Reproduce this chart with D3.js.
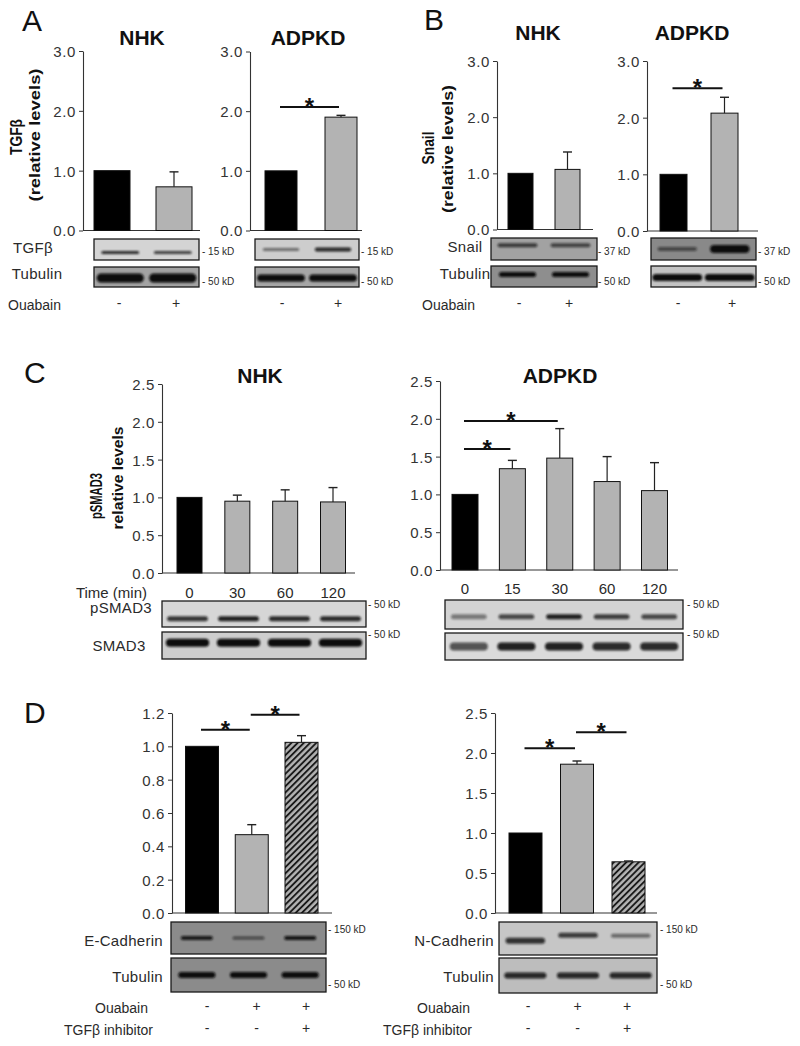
<!DOCTYPE html>
<html><head><meta charset="utf-8">
<script src="https://cdn.jsdelivr.net/npm/d3@7"></script>
<style>
body{margin:0;background:#fff}
text{font-family:"Liberation Sans",Arial,sans-serif}
</style>
</head><body>
<svg id="fig" width="800" height="1046"></svg>
<script>
// ---------------- DATA ----------------
const ouabainCats = ["Vehicle", "Ouabain"];
const ouabainSigns = ["-", "+"];
// Panel A: TGFβ relative levels
const aNhkVals = [1.00, 0.73];
const aNhkErr  = [0, 0.25];
const aAdpkdVals = [1.00, 1.90];
const aAdpkdErr  = [0, 0.03];
// Panel B: Snail relative levels
const bNhkVals = [1.00, 1.07];
const bNhkErr  = [0, 0.31];
const bAdpkdVals = [1.00, 2.08];
const bAdpkdErr  = [0, 0.28];
const abTicks = [0, 1, 2, 3];
// Panel C: pSMAD3 time course
const cNhkTimes = ["0", "30", "60", "120"];
const cNhkVals  = [1.00, 0.95, 0.95, 0.94];
const cNhkErr   = [0, 0.08, 0.15, 0.19];
const cAdpkdTimes = ["0", "15", "30", "60", "120"];
const cAdpkdVals  = [1.00, 1.34, 1.48, 1.17, 1.05];
const cAdpkdErr   = [0, 0.11, 0.39, 0.33, 0.37];
const cTicks = [0, 0.5, 1.0, 1.5, 2.0, 2.5];
// Panel D: cadherins
const dCats = ["Control", "Ouabain", "Ouabain+TGFβ inhibitor"];
const dOuabainSigns = ["-", "+", "+"];
const dInhibitorSigns = ["-", "-", "+"];
const dEcadVals = [1.00, 0.47, 1.024];
const dEcadErr  = [0, 0.06, 0.04];
const dEcadTicks = [0, 0.2, 0.4, 0.6, 0.8, 1.0, 1.2];
const dNcadVals = [1.00, 1.86, 0.64];
const dNcadErr  = [0, 0.04, 0.01];
const dNcadTicks = [0, 0.5, 1.0, 1.5, 2.0, 2.5];
// Significance brackets: [from bar, to bar, level]
const aAdpkdSig = [[0, 1, 2.07]];
const bAdpkdSig = [[0, 1, 2.52]];
const cAdpkdSig = [[0, 2, 1.97], [0, 1, 1.60]];
const dEcadSig = [[0, 1, 1.10], [1, 2, 1.19]];
const dNcadSig = [[0, 1, 2.06], [1, 2, 2.26]];
// Western blot band intensities (0-1) per lane
const aNhkTgfBands = [0.85, 0.75];
const aNhkTubBands = [1, 1];
const aAdpkdTgfBands = [0.5, 0.85];
const aAdpkdTubBands = [1, 1];
const bNhkSnailBands = [0.7, 0.65];
const bNhkTubBands = [1, 1];
const bAdpkdSnailBands = [0.55, 1];
const bAdpkdTubBands = [1, 1];
const cNhkPsmadBands = [0.8, 0.9, 0.85, 0.85];
const cNhkSmadBands = [1, 1, 1, 1];
const cAdpkdPsmadBands = [0.45, 0.7, 0.9, 0.75, 0.7];
const cAdpkdSmadBands = [0.65, 0.9, 0.9, 0.85, 0.85];
const dEcadBands = [0.9, 0.55, 0.95];
const dEcadTubBands = [1, 1, 1];
const dNcadBands = [0.8, 0.75, 0.5];
const dNcadTubBands = [0.85, 0.85, 0.85];

// ---------------- DRAWING ----------------
const svg = d3.select('#fig');
const defs = svg.append('defs');
const flt = defs.append('filter').attr('id', 'blur')
  .attr('x', '-20%').attr('y', '-150%').attr('width', '140%').attr('height', '400%');
flt.append('feGaussianBlur').attr('stdDeviation', 1.1);
const pat = defs.append('pattern').attr('id', 'hatch')
  .attr('patternUnits', 'userSpaceOnUse').attr('width', 4.4).attr('height', 4.4)
  .attr('patternTransform', 'rotate(45)');
pat.append('rect').attr('width', 4.4).attr('height', 4.4).attr('fill', '#b3b3b3');
pat.append('line').attr('x1', 1).attr('x2', 1).attr('y1', 0).attr('y2', 4.4)
  .attr('stroke', '#111').attr('stroke-width', 1.8);

const TXT = '#2a2a2a';

function barChart(cfg) {
  const g = svg.append('g');
  const y = d3.scaleLinear().domain([0, cfg.yMax]).range([cfg.y0, cfg.yTop]);
  const x = d3.scalePoint().domain(cfg.cats).range([cfg.c0, cfg.c1]);
  const ay = d3.axisLeft(y).tickValues(cfg.ticks).tickFormat(d3.format('.1f'))
    .tickSize(4).tickSizeOuter(0).tickPadding(3);
  const ga = g.append('g').attr('transform', `translate(${cfg.axisX},0)`).call(ay);
  ga.select('.domain').attr('stroke', '#333').attr('stroke-width', 1.1);
  ga.selectAll('.tick line').attr('stroke', '#333');
  ga.selectAll('.tick text').attr('font-size', 15).attr('fill', '#333')
    .attr('font-family', '"Liberation Sans",Arial,sans-serif')
    .attr('letter-spacing', 0.6).attr('dy', '0.36em');
  g.append('line').attr('x1', cfg.axisX).attr('x2', cfg.xEnd)
    .attr('y1', cfg.y0).attr('y2', cfg.y0).attr('stroke', '#333').attr('stroke-width', 1.1);
  // bars
  g.selectAll('rect.bar').data(cfg.vals).enter().append('rect').attr('class', 'bar')
    .attr('x', (d, i) => x(cfg.cats[i]) - cfg.bw / 2)
    .attr('width', cfg.bw)
    .attr('y', d => y(d))
    .attr('height', d => cfg.y0 - y(d))
    .attr('fill', (d, i) => cfg.fills[i])
    .attr('stroke', '#111').attr('stroke-width', 1);
  // error bars
  cfg.vals.forEach((v, i) => {
    const e = cfg.errs[i];
    if (!e) return;
    const cx = x(cfg.cats[i]);
    g.append('line').attr('x1', cx).attr('x2', cx).attr('y1', y(v)).attr('y2', y(v + e))
      .attr('stroke', '#222').attr('stroke-width', 1.2);
    g.append('line').attr('x1', cx - 4.5).attr('x2', cx + 4.5).attr('y1', y(v + e)).attr('y2', y(v + e))
      .attr('stroke', '#222').attr('stroke-width', 1.4);
  });
  // significance
  (cfg.sig || []).forEach(s => {
    const x1 = x(cfg.cats[s[0]]) - 1, x2 = x(cfg.cats[s[1]]) - 2;
    const yy = y(s[2]);
    g.append('line').attr('x1', x1).attr('x2', x2).attr('y1', yy).attr('y2', yy)
      .attr('stroke', '#111').attr('stroke-width', 2);
    g.append('text').attr('x', (x1 + x2) / 2).attr('y', yy + 8).attr('text-anchor', 'middle')
      .attr('font-size', 24).attr('font-weight', 'bold').attr('fill', '#111').text('*');
  });
  if (cfg.title) {
    g.append('text').attr('x', cfg.titleX).attr('y', cfg.titleY).attr('text-anchor', 'middle')
      .attr('font-size', 21).attr('font-weight', 'bold').attr('fill', '#111').text(cfg.title);
  }
  if (cfg.xLabels) {
    g.selectAll('text.xl').data(cfg.cats).enter().append('text').attr('class', 'xl')
      .attr('x', d => x(d)).attr('y', cfg.xLabelY).attr('text-anchor', 'middle')
      .attr('font-size', 15).attr('fill', TXT).text(d => d);
  }
  return {x, y};
}

function blot(cfg) {
  const g = svg.append('g');
  const n = cfg.bands.length;
  const lane = d3.scalePoint().domain(d3.range(n)).range([cfg.x, cfg.x + cfg.w]).padding(0.5);
  const lw = cfg.w / n;
  g.append('rect').attr('x', cfg.x).attr('y', cfg.y).attr('width', cfg.w).attr('height', cfg.h)
    .attr('fill', cfg.bg);
  const cid = 'clip' + Math.round(cfg.x) + '_' + Math.round(cfg.y);
  defs.append('clipPath').attr('id', cid).append('rect')
    .attr('x', cfg.x).attr('y', cfg.y).attr('width', cfg.w).attr('height', cfg.h);
  const bg = g.append('g').attr('clip-path', `url(#${cid})`);
  cfg.bands.forEach((b, i) => {
    const yf = Array.isArray(cfg.yf) ? cfg.yf[i] : cfg.yf;
    const th = (Array.isArray(cfg.th) ? cfg.th[i] : cfg.th);
    const bw = lw * cfg.wf;
    const cy = cfg.y + cfg.h * yf;
    bg.append('rect').attr('x', lane(i) - bw / 2).attr('y', cy - th / 2)
      .attr('width', bw).attr('height', th).attr('rx', th / 2).attr('ry', th / 2)
      .attr('fill', '#0d0d0d').attr('opacity', b).attr('filter', 'url(#blur)');
  });
  g.append('rect').attr('x', cfg.x).attr('y', cfg.y).attr('width', cfg.w).attr('height', cfg.h)
    .attr('fill', 'none').attr('stroke', '#1a1a1a').attr('stroke-width', 1.3);
  if (cfg.label) {
    g.append('text').attr('x', cfg.labelX).attr('y', cfg.labelY)
      .attr('text-anchor', cfg.labelAnchor || 'middle').attr('font-size', 15)
      .attr('letter-spacing', 0.3).attr('fill', TXT).text(cfg.label);
  }
  if (cfg.kd) {
    g.append('text').attr('x', cfg.kdX).attr('y', cfg.kdY).attr('font-size', 10)
      .attr('fill', TXT).text(cfg.kd);
  }
}

function txt(x, y, s, o) {
  o = o || {};
  const t = svg.append('text').attr('x', x).attr('y', y).attr('fill', o.fill || TXT)
    .attr('font-size', o.size || 14).attr('text-anchor', o.anchor || 'start')
    .attr('font-weight', o.weight || 'normal').text(s);
  return t;
}
function vlabel(cx, cy, s, len, size) {
  svg.append('text').attr('transform', `translate(${cx},${cy}) rotate(-90)`)
    .attr('text-anchor', 'middle').attr('dominant-baseline', 'central')
    .attr('font-size', size).attr('font-weight', 'bold').attr('fill', '#111')
    .attr('textLength', len).attr('lengthAdjust', 'spacingAndGlyphs').text(s);
}
function signRow(signs, x0, x1, y) {
  const s = d3.scalePoint().domain(d3.range(signs.length)).range([x0, x1]);
  signs.forEach((d, i) => txt(s(i), y, d, {anchor: 'middle', size: 14}));
}

const grayFill = '#b3b3b3';

// ---------- Panel A ----------
txt(22, 31, 'A', {size: 30, fill: '#111'});
barChart({cats: ouabainCats, vals: aNhkVals, errs: aNhkErr, fills: ['#000', grayFill],
  ticks: abTicks, yMax: 3, y0: 230.5, yTop: 51, axisX: 83, xEnd: 200, c0: 112, c1: 174, bw: 36,
  title: 'NHK', titleX: 142, titleY: 45});
barChart({cats: ouabainCats, vals: aAdpkdVals, errs: aAdpkdErr, fills: ['#000', grayFill],
  ticks: abTicks, yMax: 3, y0: 230.5, yTop: 51.5, axisX: 250, xEnd: 362, c0: 281, c1: 341, bw: 32,
  sig: aAdpkdSig, title: 'ADPKD', titleX: 308, titleY: 45});
vlabel(16, 137, 'TGFβ', 36, 17);
vlabel(34, 135, '(relative levels)', 133, 15);
blot({x: 94, y: 239, w: 105, h: 21, bg: '#d4d4d4', bands: aNhkTgfBands, yf: 0.64, th: 3, wf: 0.72,
  label: 'TGFβ', labelX: 33, labelY: 253, kd: '- 15 kD', kdX: 202, kdY: 255});
blot({x: 94, y: 267, w: 105, h: 20, bg: '#a3a3a3', bands: aNhkTubBands, yf: 0.55, th: 9, wf: 0.9,
  label: 'Tubulin', labelX: 37, labelY: 279, kd: '- 50 kD', kdX: 202, kdY: 285});
blot({x: 255, y: 239, w: 104, h: 21, bg: '#cdcdcd', bands: aAdpkdTgfBands, yf: 0.5, th: [3, 4], wf: 0.7,
  kd: '- 15 kD', kdX: 361, kdY: 255});
blot({x: 255, y: 267, w: 104, h: 20, bg: '#a6a6a6', bands: aAdpkdTubBands, yf: 0.55, th: 7, wf: 0.92,
  kd: '- 50 kD', kdX: 361, kdY: 285});
txt(8, 310, 'Ouabain', {size: 14});
signRow(ouabainSigns, 119, 176, 308);
signRow(ouabainSigns, 282, 338, 308);

// ---------- Panel B ----------
txt(424, 30, 'B', {size: 30, fill: '#111'});
barChart({cats: ouabainCats, vals: bNhkVals, errs: bNhkErr, fills: ['#000', grayFill],
  ticks: abTicks, yMax: 3, y0: 229.5, yTop: 61, axisX: 497, xEnd: 593, c0: 520.5, c1: 567.5, bw: 25,
  title: 'NHK', titleX: 538, titleY: 40});
barChart({cats: ouabainCats, vals: bAdpkdVals, errs: bAdpkdErr, fills: ['#000', grayFill],
  ticks: abTicks, yMax: 3, y0: 231, yTop: 61, axisX: 647, xEnd: 758, c0: 673.5, c1: 724.5, bw: 27,
  sig: bAdpkdSig, title: 'ADPKD', titleX: 692, titleY: 40});
vlabel(428, 148, 'Snail', 33, 17);
vlabel(447, 149, '(relative levels)', 128, 15);
blot({x: 491, y: 238, w: 106, h: 22, bg: '#a2a2a2', bands: bNhkSnailBands, yf: 0.33, th: 4, wf: 0.75,
  label: 'Snail', labelX: 465, labelY: 252, kd: '- 37 kD', kdX: 598, kdY: 255});
blot({x: 491, y: 266, w: 106, h: 21, bg: '#8e8e8e', bands: bNhkTubBands, yf: 0.4, th: 5, wf: 0.7,
  label: 'Tubulin', labelX: 465, labelY: 279, kd: '- 50 kD', kdX: 598, kdY: 285});
blot({x: 651, y: 238, w: 105, h: 22, bg: '#898989', bands: bAdpkdSnailBands, yf: 0.5, th: [4, 8], wf: 0.75,
  kd: '- 37 kD', kdX: 758, kdY: 255});
blot({x: 651, y: 266, w: 105, h: 21, bg: '#c3c3c3', bands: bAdpkdTubBands, yf: 0.55, th: 7, wf: 0.95,
  kd: '- 50 kD', kdX: 758, kdY: 285});
txt(422, 310, 'Ouabain', {size: 14});
signRow(ouabainSigns, 519, 569, 308);
signRow(ouabainSigns, 678, 732, 308);

// ---------- Panel C ----------
txt(24, 383, 'C', {size: 30, fill: '#111'});
barChart({cats: cNhkTimes, vals: cNhkVals, errs: cNhkErr, fills: ['#000', grayFill, grayFill, grayFill],
  ticks: cTicks, yMax: 2.5, y0: 573, yTop: 384, axisX: 162, xEnd: 355, c0: 189.5, c1: 333, bw: 25,
  title: 'NHK', titleX: 260, titleY: 383, xLabels: true, xLabelY: 598});
barChart({cats: cAdpkdTimes, vals: cAdpkdVals, errs: cAdpkdErr,
  fills: ['#000', grayFill, grayFill, grayFill, grayFill],
  ticks: cTicks, yMax: 2.5, y0: 570, yTop: 381, axisX: 440, xEnd: 678, c0: 465, c1: 654.5, bw: 26,
  sig: cAdpkdSig, title: 'ADPKD', titleX: 560, titleY: 383, xLabels: true, xLabelY: 594});
vlabel(96, 496, 'pSMAD3', 46, 17);
vlabel(117, 478, 'relative levels', 103, 15);
txt(147, 598, 'Time (min)', {anchor: 'end', size: 15});
blot({x: 162, y: 601, w: 204, h: 26, bg: '#d6d6d6', bands: cNhkPsmadBands, yf: 0.68, th: 5, wf: 0.8,
  label: 'pSMAD3', labelX: 121, labelY: 613, kd: '- 50 kD', kdX: 368, kdY: 608});
blot({x: 162, y: 632, w: 204, h: 27, bg: '#cecece', bands: cNhkSmadBands, yf: 0.4, th: 8, wf: 0.85,
  label: 'SMAD3', labelX: 119, labelY: 651, kd: '- 50 kD', kdX: 368, kdY: 638});
blot({x: 445, y: 600, w: 238, h: 29, bg: '#d3d3d3', bands: cAdpkdPsmadBands, yf: 0.58, th: 5, wf: 0.75,
  kd: '- 50 kD', kdX: 687, kdY: 608});
blot({x: 445, y: 633, w: 238, h: 27, bg: '#dadada', bands: cAdpkdSmadBands, yf: 0.5, th: 8, wf: 0.8,
  kd: '- 50 kD', kdX: 687, kdY: 638});

// ---------- Panel D ----------
txt(24, 723, 'D', {size: 30, fill: '#111'});
barChart({cats: dCats, vals: dEcadVals, errs: dEcadErr, fills: ['#000', grayFill, 'url(#hatch)'],
  ticks: dEcadTicks, yMax: 1.2, y0: 913, yTop: 713, axisX: 172, xEnd: 332, c0: 202, c1: 301.5, bw: 33,
  sig: dEcadSig});
barChart({cats: dCats, vals: dNcadVals, errs: dNcadErr, fills: ['#000', grayFill, 'url(#hatch)'],
  ticks: dNcadTicks, yMax: 2.5, y0: 913, yTop: 713, axisX: 495, xEnd: 657, c0: 525.5, c1: 628.5, bw: 33,
  sig: dNcadSig});
blot({x: 171, y: 922, w: 155, h: 32, bg: '#8b8b8b', bands: dEcadBands, yf: 0.5, th: [4, 3, 4], wf: 0.62,
  label: 'E-Cadherin', labelX: 163, labelY: 946, labelAnchor: 'end', kd: '- 150 kD', kdX: 328, kdY: 933});
blot({x: 171, y: 958, w: 155, h: 34, bg: '#8b8b8b', bands: dEcadTubBands, yf: 0.5, th: 6, wf: 0.72,
  label: 'Tubulin', labelX: 163, labelY: 982, labelAnchor: 'end', kd: '- 50 kD', kdX: 328, kdY: 988});
blot({x: 499, y: 922, w: 158, h: 33, bg: '#c6c6c6', bands: dNcadBands, yf: [0.57, 0.4, 0.42], th: [6, 5, 4], wf: 0.75,
  label: 'N-Cadherin', labelX: 494, labelY: 946, labelAnchor: 'end', kd: '- 150 kD', kdX: 660, kdY: 933});
blot({x: 499, y: 958, w: 158, h: 35, bg: '#bdbdbd', bands: dNcadTubBands, yf: 0.5, th: 6, wf: 0.8,
  label: 'Tubulin', labelX: 494, labelY: 982, labelAnchor: 'end', kd: '- 50 kD', kdX: 660, kdY: 988});
txt(148, 1013, 'Ouabain', {anchor: 'end', size: 14});
txt(153, 1035, 'TGFβ  inhibitor', {anchor: 'end', size: 14});
signRow(dOuabainSigns, 207, 306, 1011);
signRow(dInhibitorSigns, 207, 306, 1033);
txt(470, 1013, 'Ouabain', {anchor: 'end', size: 14});
txt(472, 1035, 'TGFβ  inhibitor', {anchor: 'end', size: 14});
signRow(dOuabainSigns, 528, 627, 1011);
signRow(dInhibitorSigns, 528, 627, 1033);
</script>
</body></html>
